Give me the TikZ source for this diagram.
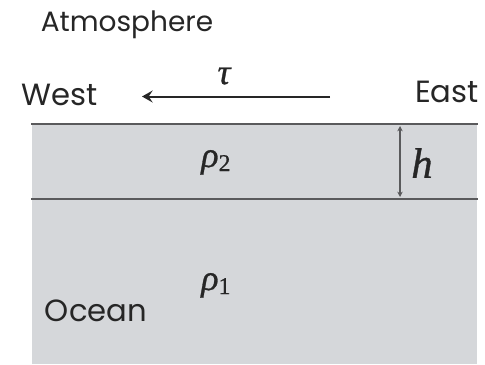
\documentclass[tikz,border=0pt]{standalone}
\usepackage{fontspec}
\usetikzlibrary{arrows.meta}
\setmainfont{Poppins}
\newfontfamily\tms[FakeBold=0.8]{Liberation Serif}
\definecolor{seagray}{RGB}{213,215,218}
\definecolor{linegray}{RGB}{90,90,92}
\definecolor{txt}{RGB}{38,38,38}
\begin{document}
\begin{tikzpicture}[x=0.75pt,y=-0.75pt,
  lbl/.style={inner sep=0pt,font=\fontsize{23}{25}\selectfont,text=txt},
  sym/.style={inner sep=0pt,font=\tms\fontsize{27}{30}\selectfont,text=txt},
  layerline/.style={draw=linegray,line width=1.5pt},
  arr/.style={line width=1.5pt,draw=txt,-{Stealth[length=8pt,width=9pt,inset=3pt]}}]
\useasboundingbox (0,0) rectangle (485,364);
\fill[seagray] (32,124) rectangle (477,364);
\draw[layerline] (31,124) -- (478,124);
\draw[layerline] (31,198.5) -- (478,198.5);
\node[lbl,font=\fontsize{21}{23}\selectfont] (atm) at (127,25) {Atmosphere};
\node[lbl] (west) at (60,95) {West};
\node[lbl] (east) at (447,92) {East};
\node[lbl] (ocean) at (96,311) {Ocean};
\coordinate (as) at (330,96.5);
\coordinate (ae) at (142,96.5);
\draw[arr] (as) -- (ae);
\node[sym] (tau) at (224,76) {\itshape τ};
\node[sym,anchor=base west] (rho2) at (201,167) {\itshape ρ\upshape\fontsize{18}{20}\selectfont\raisebox{-3pt}{2}};
\node[sym,anchor=base west] (rho1) at (201,290) {\itshape ρ\upshape\fontsize{18}{20}\selectfont\raisebox{-3pt}{1}};
\coordinate (ht) at (400,126);
\coordinate (hb) at (400,197);
\draw[linegray,line width=0.8pt,{Stealth[length=4pt,width=4pt]}-{Stealth[length=4pt,width=4pt]}] (ht) -- (hb);
\node[sym,font=\tms\fontsize{32}{34}\selectfont] (h) at (422,163) {\itshape h};
\end{tikzpicture}
\end{document}
